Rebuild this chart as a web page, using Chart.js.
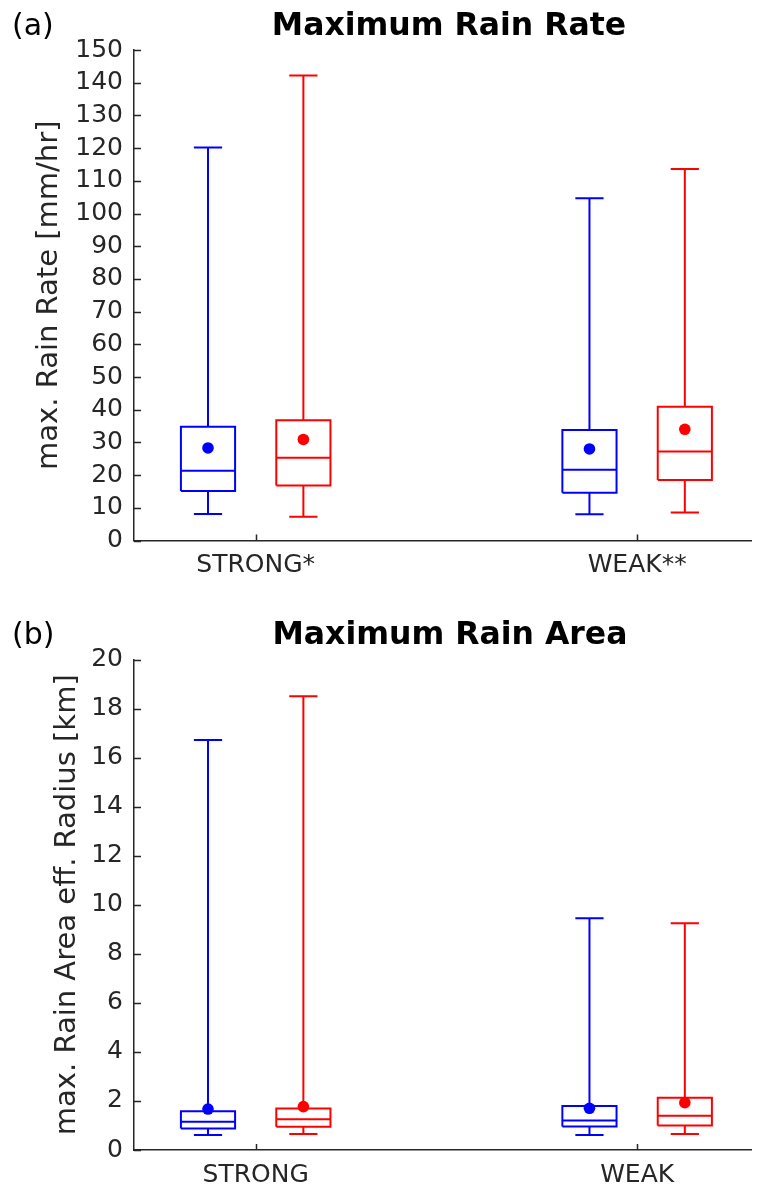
<!DOCTYPE html>
<html>
<head>
<meta charset="utf-8">
<script src="https://cdn.jsdelivr.net/npm/chart.js@4/dist/chart.umd.min.js"></script>
<style>
  html, body { margin: 0; padding: 0; background: #fff; }
  #wrap { position: relative; width: 757px; height: 1191px; }
  #wrap canvas { position: absolute; left: 0; }
</style>
</head>
<body>
<div id="wrap">
  <canvas id="rateChart" width="757" height="595" style="top:0"></canvas>
  <canvas id="areaChart" width="757" height="596" style="top:595px"></canvas>
</div>
<script>
// Category axis labels
const rateCategories = ['STRONG*', 'WEAK**'];
const areaCategories = ['STRONG', 'WEAK'];

// Box statistics per category: [lower whisker, Q1, median, Q3, upper whisker]
const rateBlueStats = [[8.1, 15.1, 21.3, 34.8, 120.2], [8.0, 14.6, 21.6, 33.8, 104.7]];
const rateRedStats  = [[7.3, 16.8, 25.3, 36.8, 142.2], [8.6, 18.5, 27.2, 40.9, 113.6]];
const rateBlueMean  = [28.3, 28.0];
const rateRedMean   = [30.9, 34.0];

const areaBlueStats = [[0.61, 0.88, 1.15, 1.58, 16.72], [0.61, 0.96, 1.20, 1.79, 9.45]];
const areaRedStats  = [[0.65, 0.95, 1.25, 1.69, 18.50], [0.65, 1.00, 1.40, 2.13, 9.25]];
const areaBlueMean  = [1.67, 1.70];
const areaRedMean   = [1.77, 1.93];

// Tick values for the y axes
const rateTicks = [0, 10, 20, 30, 40, 50, 60, 70, 80, 90, 100, 110, 120, 130, 140, 150];
const areaTicks = [0, 2, 4, 6, 8, 10, 12, 14, 16, 18, 20];

// Layout of the boxes along the category axis (data units)
const GROUP_OFFSET = 0.125;
const BOX_HALF = 0.071;
const CAP_HALF = 0.037;
const X_MIN = 0.681, X_MAX = 2.299;

const BLUE = '#0000ff';
const RED = '#ff0000';
const INK = '#262626';
const FONT = '"DejaVu Sans", sans-serif';

function boxPath(x, s) {
  const gap = { x: NaN, y: NaN };
  const L = x - BOX_HALF, R = x + BOX_HALF, cl = x - CAP_HALF, cr = x + CAP_HALF;
  return [
    { x: L, y: s[1] }, { x: R, y: s[1] }, { x: R, y: s[3] }, { x: L, y: s[3] }, { x: L, y: s[1] }, gap,
    { x: L, y: s[2] }, { x: R, y: s[2] }, gap,
    { x: x, y: s[3] }, { x: x, y: s[4] }, gap,
    { x: cl, y: s[4] }, { x: cr, y: s[4] }, gap,
    { x: x, y: s[1] }, { x: x, y: s[0] }, gap,
    { x: cl, y: s[0] }, { x: cr, y: s[0] }
  ];
}

function buildDatasets(blueStats, redStats, blueMean, redMean) {
  const sets = [];
  const series = [
    { stats: blueStats, mean: blueMean, color: BLUE, off: -GROUP_OFFSET },
    { stats: redStats, mean: redMean, color: RED, off: GROUP_OFFSET }
  ];
  // mean markers first so they sit on top
  series.forEach(sr => {
    sets.push({
      data: sr.mean.map((m, i) => ({ x: i + 1 + sr.off, y: m })),
      showLine: false,
      pointRadius: 5.8,
      pointBackgroundColor: sr.color,
      pointBorderWidth: 0,
      order: 0
    });
  });
  series.forEach(sr => {
    sr.stats.forEach((s, i) => {
      sets.push({
        data: boxPath(i + 1 + sr.off, s),
        showLine: true,
        spanGaps: false,
        borderColor: sr.color,
        borderWidth: 2,
        borderJoinStyle: 'miter',
        pointRadius: 0,
        tension: 0,
        order: 1
      });
    });
  });
  return sets;
}

// Inward tick marks and panel headings
const axisDecor = {
  id: 'axisDecor',
  afterDraw(chart, args, opts) {
    const { ctx, chartArea } = chart;
    const xs = chart.scales.x, ys = chart.scales.y;
    ctx.save();
    ctx.strokeStyle = INK;
    ctx.lineWidth = 1.5;
    ctx.beginPath();
    ys.ticks.forEach(t => {
      const p = Math.round(ys.getPixelForValue(t.value)) + 0.5;
      ctx.moveTo(chartArea.left, p);
      ctx.lineTo(chartArea.left + 7, p);
    });
    xs.ticks.forEach(t => {
      const p = Math.round(xs.getPixelForValue(t.value)) + 0.5;
      ctx.moveTo(p, chartArea.bottom);
      ctx.lineTo(p, chartArea.bottom - 6);
    });
    ctx.stroke();

    ctx.fillStyle = '#000';
    ctx.textBaseline = 'middle';
    ctx.textAlign = 'left';
    ctx.font = '30px ' + FONT;
    ctx.fillText(opts.panel, 12, opts.panelY);
    ctx.textAlign = 'center';
    ctx.font = 'bold 31.5px ' + FONT;
    ctx.fillText(opts.title, opts.titleX, opts.titleY);
    ctx.restore();
  }
};

function makeChart(id, cfg) {
  return new Chart(document.getElementById(id), {
    type: 'scatter',
    data: { datasets: buildDatasets(cfg.blue, cfg.red, cfg.blueMean, cfg.redMean) },
    plugins: [axisDecor],
    options: {
      responsive: false,
      animation: false,
      devicePixelRatio: 1,
      layout: { padding: { top: cfg.top, left: 0, right: 0, bottom: 0 } },
      plugins: {
        legend: { display: false },
        tooltip: { enabled: false },
        axisDecor: cfg.decor
      },
      scales: {
        x: {
          type: 'linear',
          min: X_MIN,
          max: X_MAX,
          afterBuildTicks: s => { s.ticks = cfg.categories.map((c, i) => ({ value: i + 1 })); },
          afterFit: s => { s.height = cfg.xHeight; s.paddingLeft = 0; s.paddingRight = 0; },
          grid: { display: false, drawTicks: false },
          border: { display: true, color: INK, width: 1.5 },
          ticks: {
            autoSkip: false,
            maxRotation: 0,
            padding: 10,
            color: INK,
            font: { family: FONT, size: 25 },
            callback: v => cfg.categories[Math.round(v) - 1]
          }
        },
        y: {
          type: 'linear',
          min: cfg.yTicks[0],
          max: cfg.yTicks[cfg.yTicks.length - 1],
          afterBuildTicks: s => { s.ticks = cfg.yTicks.map(v => ({ value: v })); },
          afterFit: s => { s.width = 134; s.paddingTop = 0; s.paddingBottom = 0; },
          grid: { display: false, drawTicks: false },
          border: { display: true, color: INK, width: 1.5 },
          ticks: {
            autoSkip: false,
            padding: 11,
            color: INK,
            font: { family: FONT, size: 25 }
          },
          title: {
            display: true,
            text: cfg.yTitle,
            color: INK,
            font: { family: FONT, size: 29 },
            padding: { top: cfg.yTitlePad, bottom: 0 }
          }
        }
      }
    }
  });
}

makeChart('rateChart', {
  blue: rateBlueStats, red: rateRedStats, blueMean: rateBlueMean, redMean: rateRedMean,
  categories: rateCategories, yTicks: rateTicks,
  yTitle: 'max. Rain Rate [mm/hr]', yTitlePad: 32,
  top: 50, xHeight: 54.5,
  decor: { panel: '(a)', panelY: 27.5, title: 'Maximum Rain Rate', titleX: 449, titleY: 26.5 }
});

makeChart('areaChart', {
  blue: areaBlueStats, red: areaRedStats, blueMean: areaBlueMean, redMean: areaRedMean,
  categories: areaCategories, yTicks: areaTicks,
  yTitle: 'max. Rain Area eff. Radius [km]', yTitlePad: 50,
  top: 64.5, xHeight: 41,
  decor: { panel: '(b)', panelY: 41, title: 'Maximum Rain Area', titleX: 450, titleY: 40.5 }
});
</script>
</body>
</html>
